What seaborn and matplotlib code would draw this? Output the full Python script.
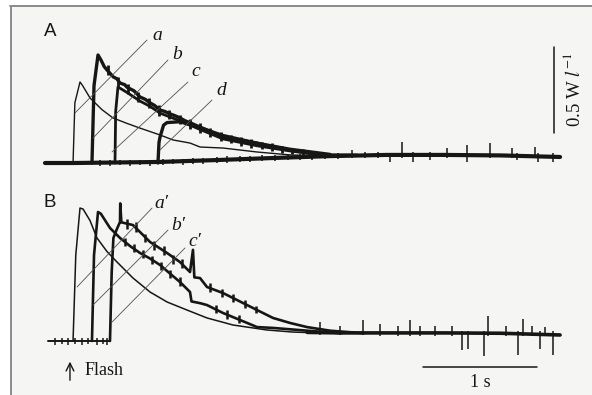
import matplotlib

matplotlib.use("Agg")
import matplotlib.pyplot as plt
import pandas as pd
import seaborn as sns
from matplotlib.lines import Line2D
from matplotlib.patches import Rectangle

sns.set_theme(style="white")
plt.rcParams["font.family"] = ["Liberation Serif", "DejaVu Serif"]
plt.rcParams["mathtext.fontset"] = "stix"

INK = "#161616"
PAPER = "#f5f5f3"

# ---- panel A: time (s), response (W l^-1) ----
a_t = [0.246, 0.262, 0.307, 0.33, 0.395, 0.5, 0.596, 0.72, 0.833, 1.0, 1.123, 1.272, 1.36, 1.561, 1.86, 2.149, 2.5]
a_v = [0.0, 0.35, 0.471, 0.45, 0.378, 0.31, 0.262, 0.23, 0.203, 0.165, 0.134, 0.116, 0.093, 0.087, 0.064, 0.047, 0.04]

b_t = [0.412, 0.43, 0.465, 0.49, 0.52, 0.544, 0.6, 0.63, 0.658, 0.7, 0.72, 0.78, 0.833, 0.88, 0.92, 0.96,
       1.009, 1.05, 1.1, 1.14, 1.184, 1.23, 1.272, 1.32, 1.36, 1.421, 1.48, 1.561, 1.63, 1.711, 1.78,
       1.86, 1.93, 2.0, 2.149, 2.3, 2.439, 2.737]
b_v = [0.0, 0.45, 0.628, 0.6, 0.56, 0.541, 0.5, 0.49, 0.465, 0.455, 0.44, 0.42, 0.384, 0.37, 0.35, 0.335,
       0.308, 0.3, 0.285, 0.275, 0.262, 0.245, 0.235, 0.22, 0.209, 0.192, 0.175, 0.151, 0.145, 0.134, 0.125,
       0.116, 0.104, 0.095, 0.076, 0.06, 0.047, 0.045]

c_t = [0.614, 0.62, 0.64, 0.72, 0.833, 0.92, 1.009, 1.184, 1.36, 1.561, 1.711, 1.86, 2.149, 2.439]
c_v = [0.0, 0.3, 0.442, 0.41, 0.36, 0.33, 0.29, 0.245, 0.195, 0.14, 0.12, 0.1, 0.07, 0.045]

d_t = [0.991, 1.0, 1.009, 1.04, 1.07, 1.184, 1.36, 1.561, 1.86, 2.149, 2.5]
d_v = [0.0, 0.12, 0.151, 0.22, 0.235, 0.24, 0.205, 0.16, 0.115, 0.08, 0.05]

baseA_t = [0.0, 0.25, 1.0, 1.5, 2.0, 2.5, 3.0, 3.5, 4.0, 4.518]
baseA_v = [0.0, 0.0, 0.006, 0.017, 0.029, 0.04, 0.047, 0.047, 0.044, 0.035]

tickA_t = [0.482, 0.570, 0.658, 0.746, 0.833, 0.921, 1.035, 1.123, 1.211, 1.298, 1.386, 1.509, 1.596,
           1.711, 1.798, 1.904, 2.018, 2.132, 2.237, 2.342, 2.456, 2.570, 2.693, 2.807, 2.921, 3.026,
           3.132, 3.228, 3.377, 3.526, 3.702, 3.904, 4.096, 4.140, 4.298, 4.325, 4.456]
tickA_lo = [-0.015, -0.015, -0.013, -0.015, -0.012, -0.015, -0.01, -0.008, -0.01, -0.006, -0.004, 0.0,
            0.0, 0.005, 0.008, 0.01, 0.012, 0.015, 0.018, 0.02, 0.022, 0.025, 0.028, 0.03, 0.028,
            0.006, 0.03, 0.006, 0.017, 0.03, 0.006, 0.03, 0.03, 0.017, 0.03, 0.006, 0.006]
tickA_hi = [0.015, 0.018, 0.015, 0.02, 0.015, 0.02, 0.022, 0.025, 0.025, 0.03, 0.03, 0.035, 0.038,
            0.04, 0.042, 0.045, 0.048, 0.05, 0.05, 0.055, 0.058, 0.06, 0.076, 0.065, 0.065,
            0.06, 0.122, 0.062, 0.065, 0.087, 0.105, 0.116, 0.087, 0.06, 0.093, 0.06, 0.058]

# noise bars riding on the b/c/d decay band
decA_t = [0.55, 0.64, 0.73, 0.82, 0.91, 1.0, 1.09, 1.18, 1.27, 1.36, 1.45, 1.54, 1.63, 1.72, 1.81,
          1.9, 1.99, 2.08, 2.17, 2.26, 2.35]
decA_lo = [0.51, 0.44, 0.4, 0.355, 0.32, 0.275, 0.255, 0.225, 0.2, 0.175, 0.15, 0.13, 0.115, 0.1, 0.09,
           0.08, 0.068, 0.058, 0.05, 0.042, 0.035]
decA_hi = [0.57, 0.5, 0.46, 0.415, 0.38, 0.335, 0.31, 0.28, 0.255, 0.23, 0.205, 0.18, 0.165, 0.15, 0.14,
           0.125, 0.115, 0.1, 0.09, 0.08, 0.07]

# ---- panel B ----
ap_t = [0.246, 0.27, 0.307, 0.334, 0.395, 0.456, 0.544, 0.632, 0.772, 0.921, 1.07, 1.246, 1.421, 1.649,
        1.947, 2.175, 2.5]
ap_v = [0.0, 0.5, 0.773, 0.767, 0.7, 0.599, 0.52, 0.459, 0.366, 0.285, 0.227, 0.18, 0.134, 0.093,
        0.064, 0.052, 0.045]

bp_t = [0.412, 0.43, 0.465, 0.49, 0.57, 0.658, 0.75, 0.833, 0.92, 1.009, 1.1, 1.184, 1.272, 1.285, 1.36,
        1.421, 1.561, 1.711, 1.86, 2.0, 2.3, 2.6]
bp_v = [0.0, 0.5, 0.75, 0.74, 0.657, 0.599, 0.55, 0.512, 0.48, 0.442, 0.39, 0.343, 0.285, 0.23, 0.22,
        0.209, 0.163, 0.122, 0.081, 0.076, 0.06, 0.045]

cp_t = [0.57, 0.585, 0.6, 0.63, 0.658, 0.66, 0.67, 0.772, 0.921, 1.07, 1.184, 1.272, 1.298, 1.31, 1.36,
        1.421, 1.561, 1.649, 1.86, 2.0, 2.149, 2.298, 2.5, 2.8]
cp_v = [0.0, 0.4, 0.599, 0.65, 0.692, 0.8, 0.69, 0.674, 0.576, 0.512, 0.459, 0.401, 0.53, 0.37, 0.366,
        0.314, 0.279, 0.25, 0.18, 0.134, 0.105, 0.081, 0.06, 0.045]

pre_t = [0.025, 0.57]
pre_v = [0.0, 0.0]
baseB_t = [2.3, 2.6, 3.0, 3.5, 4.0, 4.518]
baseB_v = [0.05, 0.047, 0.047, 0.047, 0.045, 0.035]

tickB_t = [0.088, 0.149, 0.202, 0.263, 0.325, 0.377, 0.456, 0.509, 0.544,
           2.412, 2.588, 2.789, 2.939, 3.096, 3.202, 3.289, 3.421, 3.570, 3.658, 3.711, 3.851, 3.886,
           4.044, 4.149, 4.193, 4.272, 4.342, 4.386, 4.456]
tickB_lo = [-0.023, -0.02, -0.023, -0.02, -0.023, -0.02, -0.023, -0.02, -0.023,
            0.035, 0.035, 0.035, 0.03, 0.03, 0.03, 0.03, 0.03, 0.03, -0.052, -0.047, -0.087, 0.03,
            0.03, -0.081, 0.03, 0.03, -0.047, 0.03, -0.081]
tickB_hi = [0.017, 0.015, 0.017, 0.015, 0.017, 0.015, 0.017, 0.015, 0.017,
            0.11, 0.09, 0.12, 0.1, 0.09, 0.122, 0.085, 0.085, 0.085, 0.06, 0.06, 0.06, 0.145,
            0.085, 0.06, 0.128, 0.085, 0.06, 0.081, 0.06]

# noise bars on the b' and c' decays
decB_t = [0.72, 0.8, 0.88, 0.96, 1.04, 1.12, 1.2, 1.45, 1.55, 1.65, 1.75, 1.85,
          0.7, 0.78, 0.86, 0.94, 1.02, 1.1, 1.18, 1.5, 1.6, 1.7]
decB_lo = [0.65, 0.635, 0.575, 0.53, 0.5, 0.45, 0.425, 0.285, 0.255, 0.225, 0.19, 0.16,
           0.55, 0.515, 0.48, 0.445, 0.41, 0.365, 0.32, 0.16, 0.13, 0.105]
decB_hi = [0.71, 0.69, 0.625, 0.58, 0.55, 0.5, 0.475, 0.335, 0.305, 0.275, 0.24, 0.205,
           0.6, 0.565, 0.53, 0.495, 0.46, 0.415, 0.37, 0.21, 0.18, 0.15]


def trace_frame(pairs):
    rows = []
    for name, ts, vs in pairs:
        rows += [{"trace": name, "t": t, "v": v} for t, v in zip(ts, vs)]
    return pd.DataFrame(rows)


def draw(ax, df, name, lw):
    sns.lineplot(data=df[df.trace == name], x="t", y="v", sort=False, estimator=None,
                 color=INK, linewidth=lw, ax=ax, legend=False)


def leader(ax, xy_from, xy_to, label, xy_label):
    ax.plot([xy_from[0], xy_to[0]], [xy_from[1], xy_to[1]], color="#505050", lw=0.6)
    ax.text(*xy_label, label, style="italic", fontsize=14, ha="center", va="center", color=INK)


fig = plt.figure(figsize=(5.92, 3.95), dpi=100)
fig.patch.set_facecolor("white")
fig.add_artist(Rectangle((11 / 592, 0), 1, 1 - 5.5 / 395, transform=fig.transFigure,
                         facecolor=PAPER, edgecolor="none", zorder=-5))
fig.add_artist(Line2D([10 / 592, 1], [1 - 5.5 / 395] * 2, transform=fig.transFigure, color="#8a8a8a", lw=1.4))
fig.add_artist(Line2D([11 / 592] * 2, [0, 1 - 5.5 / 395], transform=fig.transFigure, color="#8a8a8a", lw=1.4))

axA = fig.add_axes([0, 1 - 195 / 395, 1, 195 / 395])
axB = fig.add_axes([0, 0, 1, 200 / 395])
for ax in (axA, axB):
    ax.set_facecolor("none")
    ax.set_xlim(-45 / 114, (592 - 45) / 114)
    ax.set_axis_off()
axA.set_ylim((163 - 195) / 172, 163 / 172)
axB.set_ylim((341 - 395) / 172, (341 - 195) / 172)

dfA = trace_frame([("a", a_t, a_v), ("b", b_t, b_v), ("c", c_t, c_v), ("d", d_t, d_v),
                   ("base", baseA_t, baseA_v)])
dfB = trace_frame([("a'", ap_t, ap_v), ("b'", bp_t, bp_v), ("c'", cp_t, cp_v),
                   ("pre", pre_t, pre_v), ("base", baseB_t, baseB_v)])

# panel A
draw(axA, dfA, "base", 3.0)
draw(axA, dfA, "a", 1.0)
draw(axA, dfA, "d", 2.4)
draw(axA, dfA, "c", 2.0)
draw(axA, dfA, "b", 2.4)
axA.vlines(tickA_t, tickA_lo, tickA_hi, color=INK, lw=1.1)
axA.vlines(decA_t, decA_lo, decA_hi, color=INK, lw=2.0)
axA.plot([0, 0.246], [0, 0], color=INK, lw=1.0)

leader(axA, (0.263, 0.291), (0.895, 0.715), "a", (0.982, 0.74))
leader(axA, (0.421, 0.145), (1.079, 0.599), "b", (1.158, 0.63))
leader(axA, (0.588, 0.064), (1.254, 0.471), "c", (1.325, 0.53))
leader(axA, (1.009, 0.076), (1.465, 0.366), "d", (1.544, 0.42))

axA.text(0.044, 0.762, "A", family=["Liberation Sans", "DejaVu Sans"], fontsize=13.5,
         ha="center", va="center", color=INK)
axA.plot([4.465, 4.465], [0.174, 0.674], color=INK, lw=1.1)
axA.text(4.632, 0.424, r"0.5 W $l^{-1}$", rotation=90, fontsize=13.5, ha="center", va="center", color=INK)

# panel B
draw(axB, dfB, "pre", 1.4)
draw(axB, dfB, "base", 2.6)
draw(axB, dfB, "a'", 1.1)
draw(axB, dfB, "b'", 1.9)
draw(axB, dfB, "c'", 1.9)
axB.vlines(tickB_t, tickB_lo, tickB_hi, color=INK, lw=1.1)
axB.vlines(decB_t, decB_lo, decB_hi, color=INK, lw=1.8)

leader(axB, (0.281, 0.314), (0.939, 0.773), "a\u2032", (1.02, 0.80))
leader(axB, (0.421, 0.209), (1.079, 0.645), "b\u2032", (1.17, 0.67))
leader(axB, (0.588, 0.11), (1.228, 0.541), "c\u2032", (1.316, 0.58))

axB.text(0.044, 0.808, "B", family=["Liberation Sans", "DejaVu Sans"], fontsize=13.5,
         ha="center", va="center", color=INK)
axB.annotate("", xy=(0.219, -0.12), xytext=(0.219, -0.228),
             arrowprops=dict(arrowstyle="->", color=INK, lw=1.0, mutation_scale=14,
                             shrinkA=0, shrinkB=0))
axB.text(0.351, -0.174, "Flash", fontsize=13, ha="left", va="center", color=INK)
axB.plot([3.316, 4.316], [-0.151, -0.151], color=INK, lw=1.1)
axB.text(3.816, -0.244, "1 s", fontsize=13, ha="center", va="center", color=INK)

fig.savefig("out.png", dpi=100, facecolor=fig.get_facecolor())
